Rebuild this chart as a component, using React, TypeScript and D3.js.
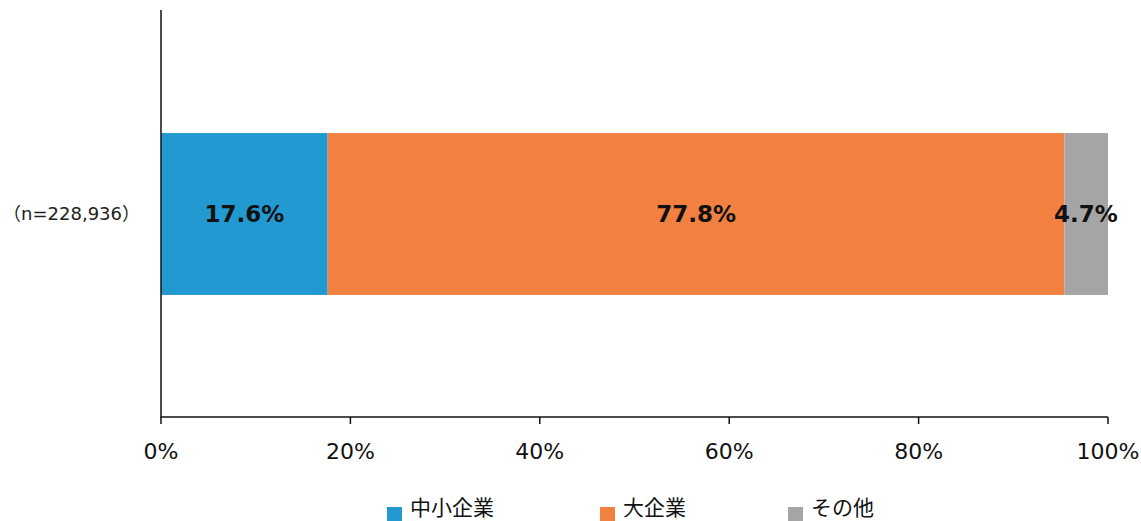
import React from "react";
import * as d3 from "d3";

const categoryLabel = "（n=228,936）";
const seriesNames = ["中小企業", "大企業", "その他"];
const seriesValues = [17.6, 77.8, 4.7];
const seriesColors = ["#2399d1", "#f28040", "#a5a5a5"];
const tickValues = [0, 20, 40, 60, 80, 100];

const W = 1141;
const H = 521;

export default function App() {
  const x = d3.scaleLinear().domain([0, 100]).range([161, 1108]);
  const y = d3.scaleBand().domain([categoryLabel]).range([10, 418]).paddingInner(0).paddingOuter(0.76);
  const bandY = y(categoryLabel)!;
  const bh = y.bandwidth();
  const stackData = [Object.fromEntries(seriesNames.map((n, i) => [n, seriesValues[i]]))];
  const stacked = d3.stack<any>().keys(seriesNames)(stackData as any);
  const legendX = [387, 600, 788];
  const cjk = "'Noto Sans CJK JP', 'Noto Sans', sans-serif";
  const latin = "'DejaVu Sans', 'Noto Sans CJK JP', sans-serif";
  return (
    <svg width={W} height={H} style={{ position: "absolute", left: 0, top: 0 }} fontFamily={latin}>
      <rect width={W} height={H} fill="#fff" />
      {stacked.map((s, i) => {
        const d = s[0];
        const x0 = x(d[0]);
        const x1 = Math.min(x(d[1]), x(100));
        return (
          <g key={seriesNames[i]}>
            <rect x={x0} y={bandY} width={x1 - x0} height={bh} fill={seriesColors[i]} />
            <text
              x={i === 2 ? x1 - 22 : (x0 + x1) / 2}
              y={bandY + bh / 2}
              dy="0.36em"
              textAnchor="middle"
              fontWeight="bold"
              fontSize={23}
              fill="#111"
            >
              {seriesValues[i].toFixed(1)}%
            </text>
          </g>
        );
      })}
      <text x={140} y={bandY + bh / 2} dy="0.36em" textAnchor="end" fontSize={18} fill="#222">
        {categoryLabel}
      </text>
      <line x1={x(0)} x2={x(0)} y1={10} y2={418} stroke="#111" strokeWidth={1.5} />
      <line x1={x(0)} x2={x(100)} y1={417} y2={417} stroke="#111" strokeWidth={1.5} />
      {tickValues.map((t) => (
        <g key={t}>
          <line x1={x(t)} x2={x(t)} y1={417} y2={424} stroke="#111" strokeWidth={1.5} />
          <text x={x(t)} y={451} dy="0.36em" textAnchor="middle" fontSize={22} fill="#111">
            {t}%
          </text>
        </g>
      ))}
      {seriesNames.map((n, i) => (
        <g key={n}>
          <rect x={legendX[i]} y={507} width={15} height={15} fill={seriesColors[i]} />
          <text x={legendX[i] + 23} y={515} fontFamily={cjk} fontSize={21} fill="#111">
            {n}
          </text>
        </g>
      ))}
    </svg>
  );
}
